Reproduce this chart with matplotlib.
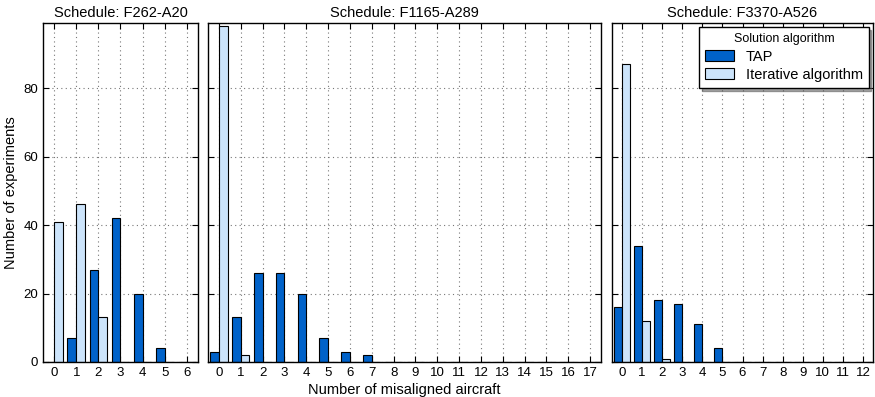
# misaligned aircraft histograms for three schedules
import numpy as np
import matplotlib.pyplot as plt

plt.rcParams['font.family'] = ['Liberation Sans', 'DejaVu Sans']

schedules = ["F262-A20", "F1165-A289", "F3370-A526"]
tap_counts = [
    [0, 7, 27, 42, 20, 4, 0],
    [3, 13, 26, 26, 20, 7, 3, 2, 0, 0, 0, 0, 0, 0, 0, 0, 0, 0],
    [16, 34, 18, 17, 11, 4, 0, 0, 0, 0, 0, 0, 0],
]
iter_counts = [
    [41, 46, 13, 0, 0, 0, 0],
    [98, 2, 0, 0, 0, 0, 0, 0, 0, 0, 0, 0, 0, 0, 0, 0, 0, 0],
    [87, 12, 1, 0, 0, 0, 0, 0, 0, 0, 0, 0, 0],
]

tap_col = "#0062c9"
iter_col = "#cce4fb"

fig = plt.figure(figsize=(8.75, 3.97), dpi=100)
# axes boxes in pixels (left, width)
boxes = [(43, 155), (208, 393), (612, 261)]
axs = []
for i, (l, w) in enumerate(boxes):
    ax = fig.add_axes([l / 875, 1 - 362 / 397, w / 875, (362 - 23) / 397],
                      sharey=axs[0] if axs else None)
    axs.append(ax)
    x = np.arange(len(tap_counts[i]))
    ax.bar(x, tap_counts[i], width=-0.4, align="edge", color=tap_col,
           edgecolor="black", linewidth=0.8, label="TAP", zorder=2)
    ax.bar(x, iter_counts[i], width=0.4, align="edge", color=iter_col,
           edgecolor="black", linewidth=0.8, label="Iterative algorithm", zorder=2)
    ax.set_xlim(-0.5, len(x) - 0.5)
    ax.set_xticks(x)
    ax.set_title("Schedule: " + schedules[i], fontsize=10.5, pad=4)
    ax.grid(True, linestyle=(0, (1, 3)), color="#777777", linewidth=0.8, zorder=0)
    ax.tick_params(direction="in", top=True, right=True, labelsize=9.5,
                   length=4, width=0.8)
    for s in ax.spines.values():
        s.set_linewidth(1.0)
    if i > 0:
        ax.tick_params(labelleft=False)

axs[0].set_ylim(0, 99)
axs[0].set_yticks([0, 20, 40, 60, 80])
axs[0].set_ylabel("Number of experiments", fontsize=10.5)
axs[1].set_xlabel("Number of misaligned aircraft", fontsize=10.5, labelpad=3)

leg = axs[2].legend(title="Solution algorithm", loc="upper right", fontsize=10.5,
                    title_fontsize=9, shadow=True, fancybox=False,
                    framealpha=1, edgecolor="black", borderpad=0.4,
                    handlelength=2.0, handleheight=0.8, handletextpad=0.8,
                    labelspacing=0.3, borderaxespad=0.3)
leg.get_frame().set_linewidth(1.0)

plt.savefig("out.png", dpi=100)
